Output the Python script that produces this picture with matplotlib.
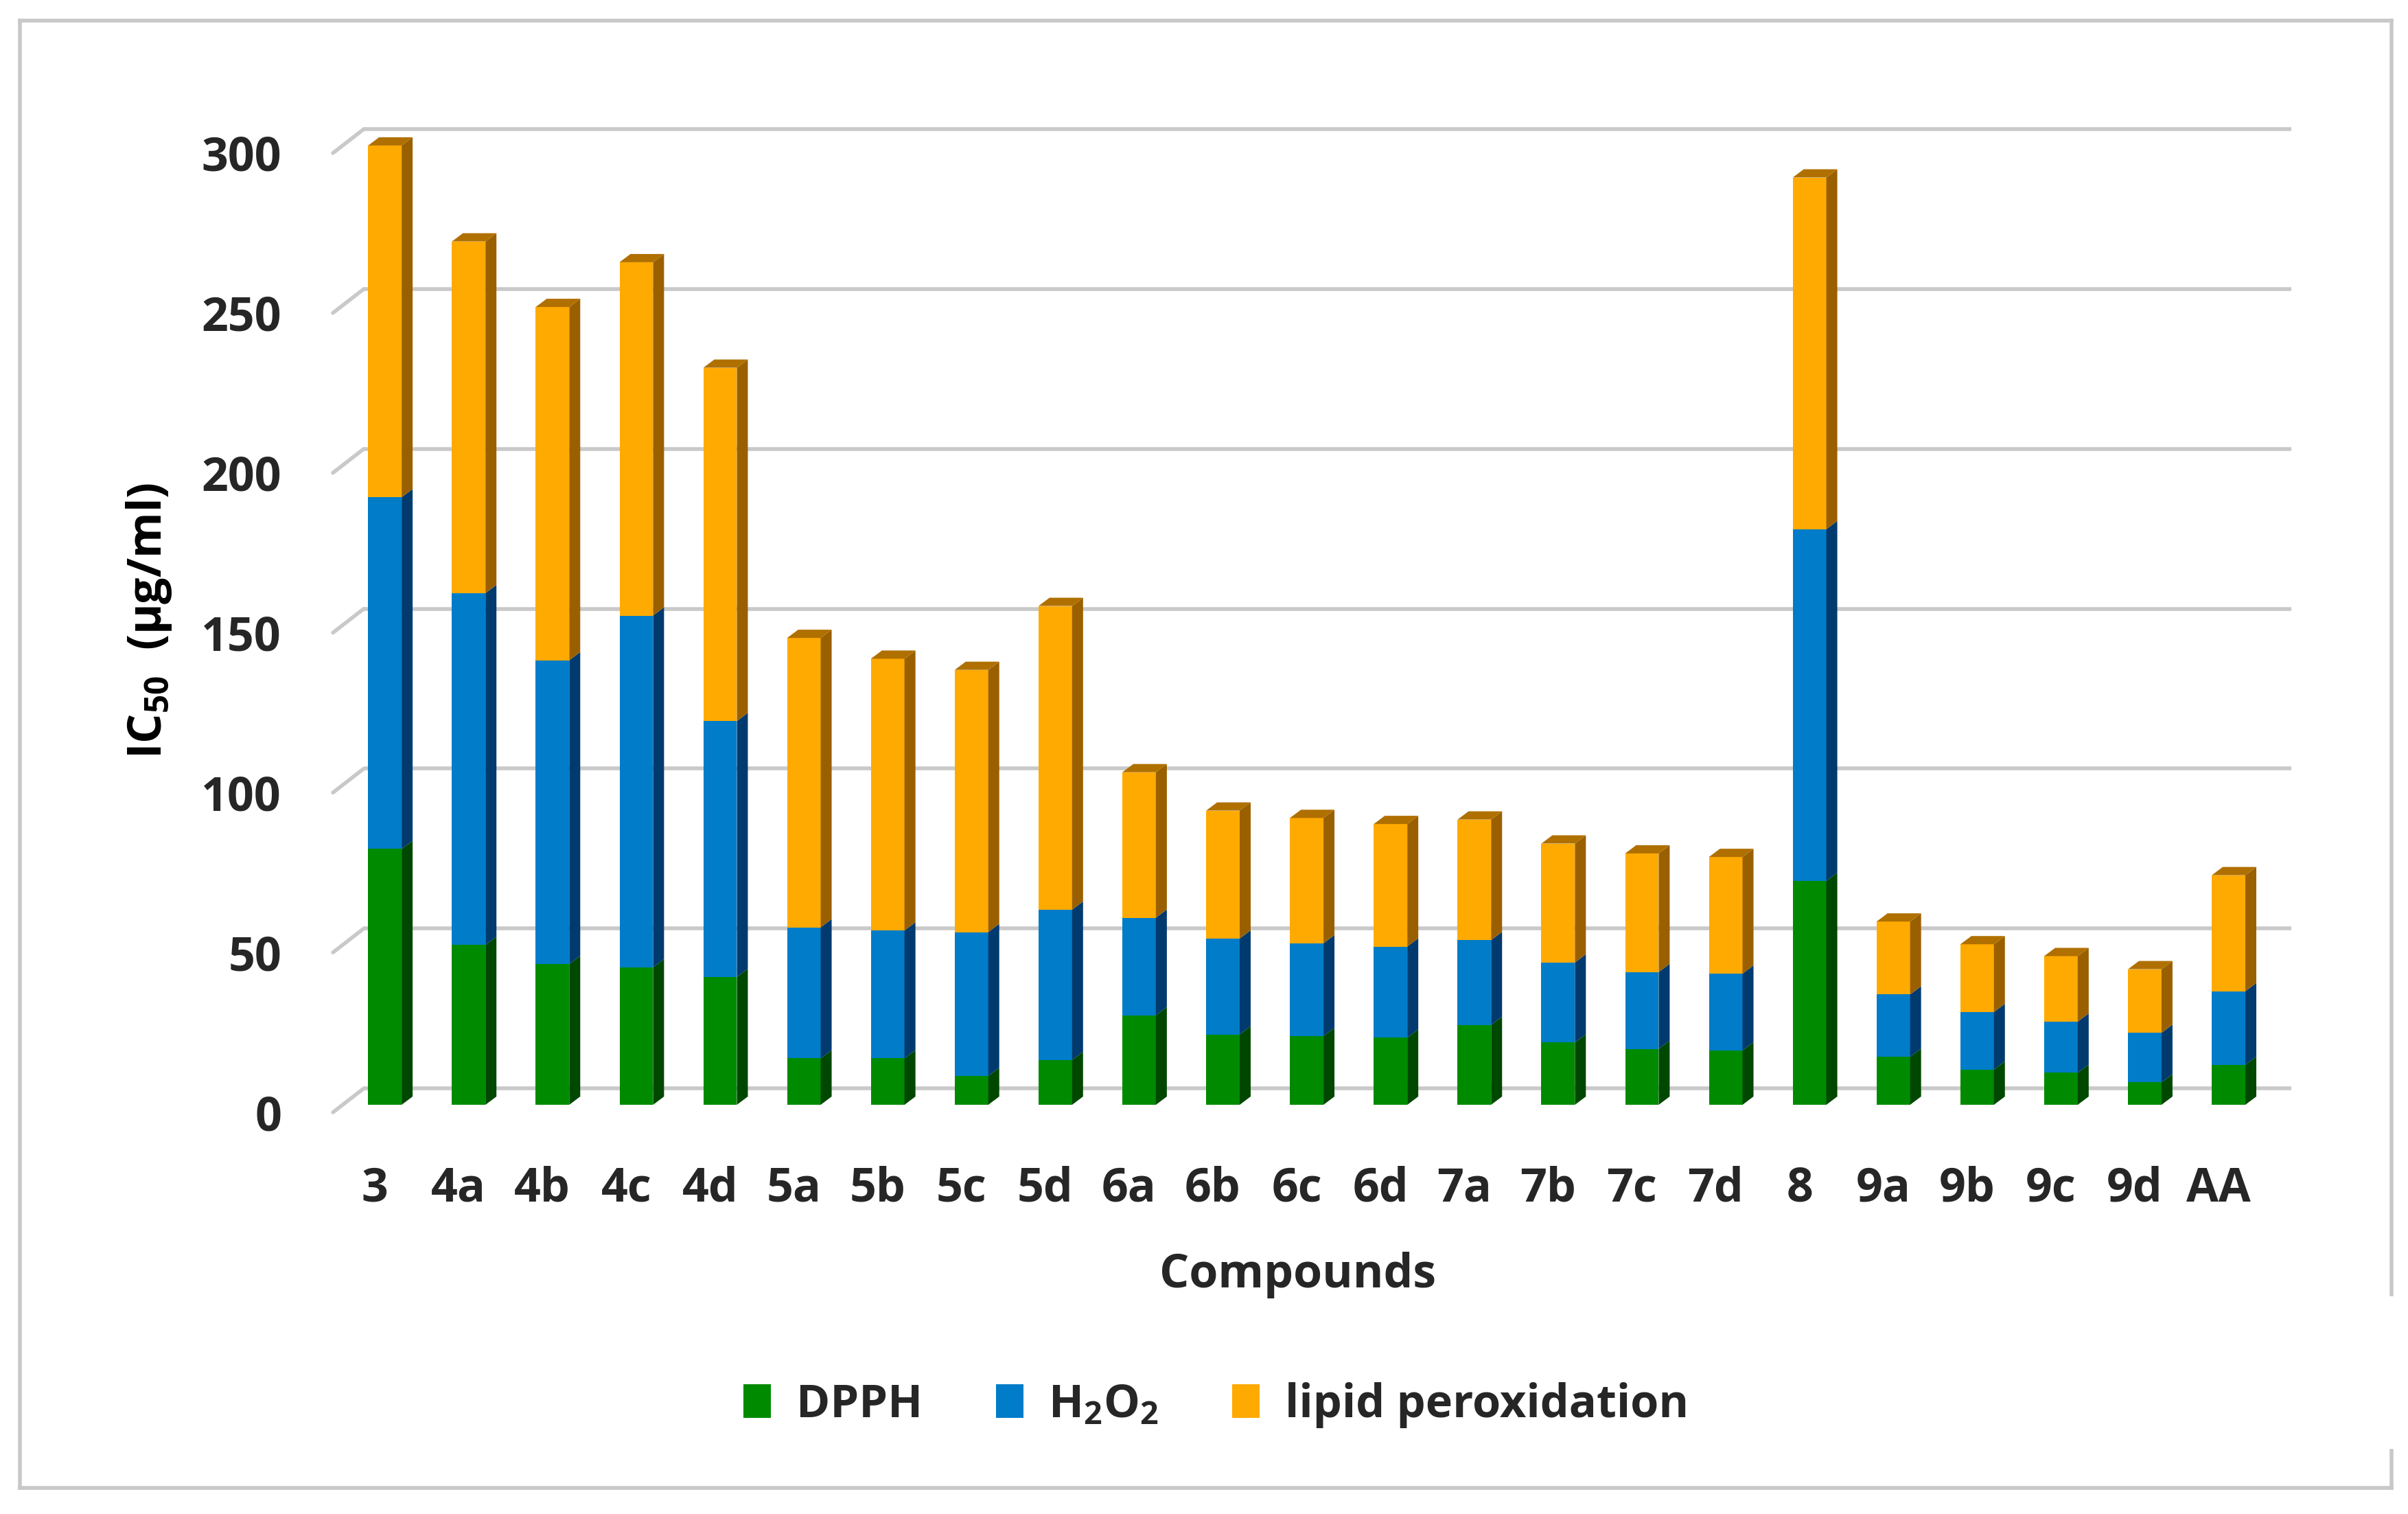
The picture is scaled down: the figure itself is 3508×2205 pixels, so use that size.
"""Stacked IC50 bar chart with a flat pseudo-3D look."""

import matplotlib

matplotlib.use("Agg")

import matplotlib.pyplot as plt
from matplotlib.lines import Line2D
from matplotlib.patches import Patch, Polygon
import numpy as np

compounds = ["3", "4a", "4b", "4c", "4d", "5a", "5b", "5c", "5d", "6a", "6b", "6c",
             "6d", "7a", "7b", "7c", "7d", "8", "9a", "9b", "9c", "9d", "AA"]
dpph = [80, 50, 44, 43, 40, 14.5, 14.5, 9, 14, 28, 22, 21.5,
        21, 25, 19.5, 17.5, 17, 70, 15, 11, 10, 7, 12.5]
h2o2 = [110, 110, 95, 110, 80, 41, 40, 45, 47, 30.5, 30, 29,
        28.5, 26.5, 25, 24, 24, 110, 19.5, 18, 16, 15.5, 23]
lipid = [110, 110, 110.5, 110.5, 110.5, 90.5, 85, 82, 95, 45.5, 40, 39.2,
         38.3, 37.7, 37.2, 37.1, 36.5, 110, 22.8, 21.2, 20.5, 19.9, 36.3]
series_names = ["DPPH", r"H$_2$O$_2$", "lipid peroxidation"]
y_ticks = [0, 50, 100, 150, 200, 250, 300]

plt.rcParams["font.family"] = ["Open Sans", "DejaVu Sans"]
plt.rcParams["font.weight"] = "bold"
plt.rcParams["mathtext.fontset"] = "custom"
plt.rcParams["mathtext.rm"] = "Open Sans:bold"
plt.rcParams["mathtext.it"] = "Open Sans:bold"
plt.rcParams["mathtext.bf"] = "Open Sans:bold"

# face colours: front, side, top
front_cols = ["#008a00", "#007cc8", "#ffaa00"]
side_cols = ["#004700", "#003a6e", "#9a6000"]
top_col = "#b07000"
grid_col = "#c9c9c9"
text_col = "#262626"

# pseudo-3D geometry in data units
back_dx, back_dy = 0.369, 7.5      # floor depth (front edge -> back wall)
bar_fx, bar_fy = 0.12, 2.36        # bar front face offset from front edge
depth_dx, depth_dy = 0.131, 2.58   # bar depth
bar_w = 0.40

fig = plt.figure(figsize=(17.54, 11.025), dpi=200)
ax = fig.add_axes([0.13826, 0.2653, 0.80045, 0.6336])
n = len(compounds)
x = np.arange(n)
ax.set_xlim(-0.5, n - 0.5)
ax.set_ylim(0, 300)

# gridlines on the back wall plus the little diagonals to the front edge
for v in y_ticks:
    ax.plot([-0.5 + back_dx, n - 0.5 + back_dx], [v + back_dy, v + back_dy],
            color=grid_col, lw=2.0, zorder=1, clip_on=False, solid_capstyle="butt")
    ax.plot([-0.5, -0.5 + back_dx], [v, v + back_dy],
            color=grid_col, lw=2.0, zorder=1, clip_on=False, solid_capstyle="round")

stack = [np.asarray(dpph, float), np.asarray(h2o2, float), np.asarray(lipid, float)]
base = np.zeros(n)
cx = x + bar_fx
for vals, fc, sc in zip(stack, front_cols, side_cols):
    ax.bar(cx, vals, bottom=base + bar_fy, width=bar_w, color=fc,
           linewidth=0, zorder=3, clip_on=False)
    xr = cx + bar_w / 2
    for i in range(n):
        b, t = base[i] + bar_fy, base[i] + vals[i] + bar_fy
        side = Polygon([(xr[i], b), (xr[i] + depth_dx, b + depth_dy),
                        (xr[i] + depth_dx, t + depth_dy), (xr[i], t)],
                       closed=True, facecolor=sc, edgecolor="none", zorder=3, clip_on=False)
        ax.add_patch(side)
    base = base + vals

for i in range(n):
    xl, xr = cx[i] - bar_w / 2, cx[i] + bar_w / 2
    t = base[i] + bar_fy
    top = Polygon([(xl, t), (xl + depth_dx, t + depth_dy),
                   (xr + depth_dx, t + depth_dy), (xr, t)],
                  closed=True, facecolor=top_col, edgecolor="none", zorder=4, clip_on=False)
    ax.add_patch(top)

for s in ax.spines.values():
    s.set_visible(False)
ax.set_xticks(x)
ax.set_xticklabels(compounds)
ax.set_yticks(y_ticks)
ax.tick_params(axis="both", length=0, labelsize=24.5, labelcolor=text_col)
ax.tick_params(axis="x", pad=28)
ax.tick_params(axis="y", pad=27)

fig.text(0.0619, 0.59, r"IC$_{50}$  (µg/ml)", rotation=90, ha="center", va="center",
         fontsize=24.5, color="black")
fig.text(0.5388, 0.158, "Compounds", ha="center", va="center", fontsize=24.5, color=text_col)

handles = [Patch(facecolor=c, edgecolor="none") for c in front_cols]
fig.legend(handles, series_names, loc="center", bbox_to_anchor=(0.505, 0.072), ncol=3,
           frameon=False, fontsize=24, handlelength=0.6, handleheight=0.75,
           handletextpad=0.55, columnspacing=1.6, labelcolor=text_col)

# light grey outer frame (right side has a gap near the bottom)
W, H = 3508.0, 2205.0
frame_kw = dict(color="#c8c8c8", lw=2.0, transform=fig.transFigure)
x0, x1 = 29 / W, 3484 / W
y0, y1 = 1 - 2167 / H, 1 - 30 / H
fig.add_artist(Line2D([x0, x1], [y1, y1], **frame_kw))
fig.add_artist(Line2D([x0, x1], [y0, y0], **frame_kw))
fig.add_artist(Line2D([x0, x0], [y0, y1], **frame_kw))
fig.add_artist(Line2D([x1, x1], [1 - 1885 / H, y1], **frame_kw))
fig.add_artist(Line2D([x1, x1], [y0, 1 - 2113 / H], **frame_kw))

fig.savefig("out.png", dpi=200, facecolor="white")
plt.close(fig)
